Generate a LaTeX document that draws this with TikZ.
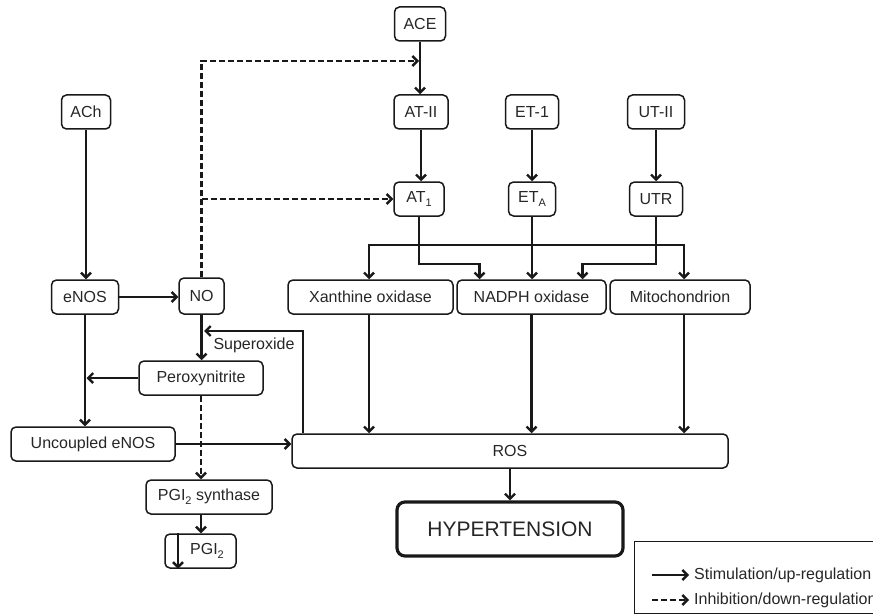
\documentclass[tikz,border=0pt]{standalone}
\usepackage{fontspec}
\setmainfont{Liberation Sans}
\usetikzlibrary{arrows.meta,calc}
\newcommand{\mysub}[1]{\raisebox{-0.45ex}{\fontsize{11}{11}\selectfont #1}}
\begin{document}
\begin{tikzpicture}[x=1pt,y=-1pt,
  box/.style={draw=black!90, line width=1.5pt, rounded corners=5pt, minimum height=34pt, inner sep=0pt,
    font=\fontsize{16}{19}\selectfont, text=black!85},
  lbl/.style={font=\fontsize{16}{19}\selectfont, text=black!85, inner sep=0pt},
  arr/.style={draw=black!90, line width=2.4pt, -{Straight Barb[length=5pt,width=10pt]}},
  arrb/.style={draw=black!90, line width=2.4pt, {Straight Barb[length=5pt,width=10pt]}-{Straight Barb[length=5pt,width=10pt]}},
  darr/.style={arr, dash pattern=on 6pt off 3pt},
]
\useasboundingbox (0,0) rectangle (873,615);

% nodes
\node[box, minimum width=49pt] (ach) at (86,112) {ACh};
\node[box, minimum width=51pt] (ace) at (420,24) {ACE};
\node[box, minimum width=54pt] (at2) at (421,112) {AT-II};
\node[box, minimum width=53pt] (et1) at (532,112) {ET-1};
\node[box, minimum width=57pt] (ut2) at (656,112) {UT-II};
\node[box, minimum width=50pt] (at1) at (419,199) {AT\mysub{1}};
\node[box, minimum width=47pt] (eta) at (532,199) {ET\mysub{A}};
\node[box, minimum width=53pt] (utr) at (656,199) {UTR};
\node[box, minimum width=165pt] (xo) at (370.5,297) {Xanthine oxidase};
\node[box, minimum width=149pt] (nadph) at (531.5,297) {NADPH oxidase};
\node[box, minimum width=140pt] (mito) at (680,297) {Mitochondrion};
\node[box, minimum width=67pt] (enos) at (85,297) {eNOS};
\node[box, minimum width=45pt, minimum height=36pt] (no) at (201.5,296) {NO};
\node[box, minimum width=124pt] (pn) at (201,378) {Peroxynitrite};
\node[box, minimum width=164pt] (uenos) at (93,444) {Uncoupled eNOS};
\node[box, minimum width=436pt] (ros) at (510,451) {ROS};
\node[box, minimum width=126pt] (pgis) at (209,497) {PGI\mysub{2} synthase};
\node[box, minimum width=71pt] (pgi) at (200.5,551) {\hspace*{13pt}PGI\mysub{2}};
\node[box, minimum width=226pt, minimum height=54pt, line width=3.2pt, rounded corners=8pt,
  font=\fontsize{21}{25}\selectfont] (hyp) at (510,529) {HYPERTENSION};

% helper coordinates
\coordinate (midy) at (0,264);
\coordinate (x178) at (178,0);
\coordinate (x303) at (303,0);
\coordinate (x369) at (369,0);
\coordinate (x684) at (684,0);
\coordinate (busr) at (684,245);
\coordinate (supend) at (204,331);
\coordinate (dtip) at (419,61);

% connectors
\draw[arr] (ach.south) -- (ach.south |- enos.north);
\draw[arr] (enos.east) -- (enos.east -| no.west);
\draw[arr] (ace.south) -- (ace.south |- at2.north);
\draw[arr] (at2.south) -- (at2.south |- at1.north);
\draw[arr] (et1.south) -- (et1.south |- eta.north);
\draw[arr] (ut2.south) -- (ut2.south |- utr.north);
\draw[arr] (at1.south) -- (at1.south |- midy) -| ($(nadph.north)+(-52,0)$);
\draw[arr] (eta.south) -- (eta.south |- nadph.north);
\draw[arr] (utr.south) -- (utr.south |- midy) -| ($(nadph.north)+(51,0)$);
\draw[arrb] (xo.north -| x369) |- (busr) -- (mito.north -| x684);
\draw[arr] (xo.south -| x369) -- (ros.north -| x369);
\draw[arr] (nadph.south) -- (nadph.south |- ros.north);
\draw[arr] (mito.south -| x684) -- (ros.north -| x684);
\draw[arr] (ros.south) -- (hyp.north);
\draw[arr] (uenos.east) -- (uenos.east -| ros.west);
\draw[arr] (ros.north -| x303) |- (supend);
\node[lbl] (suplab) at (254,345) {Superoxide};
\draw[arr] (no.south) -- (no.south |- pn.north);
\draw[arr] (pn.west) -- ($(pn.west -| enos.south)+(1.5,0)$);
\draw[arr] (enos.south) -- (enos.south |- uenos.north);
\draw[darr] (pn.south) -- (pn.south |- pgis.north);
\draw[arr] (pgis.south -| pn.south) -- (pn.south |- pgi.north);
\draw[arr] (pgi.north -| x178) -- (pgi.south -| x178);
\draw[darr] (no.north) |- (dtip);
\draw[darr] (no.north |- at1.west) -- (at1.west);

% legend
\node[draw=black!90, line width=1.3pt, minimum width=266pt, minimum height=72pt, anchor=north west, inner sep=0pt] (legend) at (634,541) {};
\coordinate (l1a) at (652,575);
\coordinate (l1b) at (689,575);
\coordinate (l2a) at (652,600);
\coordinate (l2b) at (689,600);
\draw[arr] (l1a) -- (l1b);
\draw[darr] (l2a) -- (l2b);
\node[lbl, anchor=west] (l1t) at (694,575) {Stimulation/up-regulation};
\node[lbl, anchor=west] (l2t) at (694,600) {Inhibition/down-regulation};
\end{tikzpicture}
\end{document}
